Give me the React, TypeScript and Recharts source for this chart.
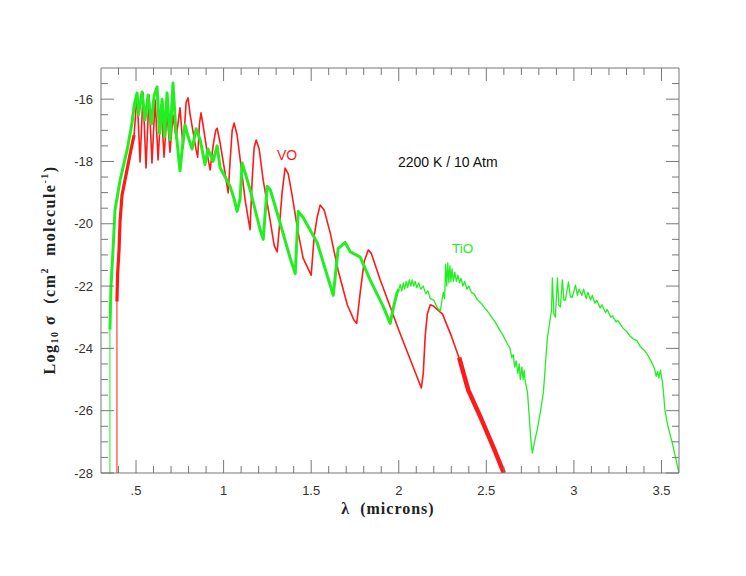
import React from 'react';
import { LineChart, Line, XAxis, YAxis } from 'recharts';

// ---- axis ticks ----
const xTickValues = [0.4, 0.5, 0.6, 0.7, 0.8, 0.9, 1.0, 1.1, 1.2, 1.3, 1.4, 1.5, 1.6, 1.7, 1.8, 1.9, 2.0, 2.1, 2.2, 2.3, 2.4, 2.5, 2.6, 2.7, 2.8, 2.9, 3.0, 3.1, 3.2, 3.3, 3.4, 3.5];
const xMajorValues = [0.5, 1.0, 1.5, 2.0, 2.5, 3.0, 3.5];
const xMajorLabels = ['.5', '1', '1.5', '2', '2.5', '3', '3.5'];
const yTickValues = [-28, -27.5, -27, -26.5, -26, -25.5, -25, -24.5, -24, -23.5, -23, -22.5, -22, -21.5, -21, -20.5, -20, -19.5, -19, -18.5, -18, -17.5, -17, -16.5, -16, -15.5];
const yMajorValues = [-28, -26, -24, -22, -20, -18, -16];
const yMajorLabels = ['-28', '-26', '-24', '-22', '-20', '-18', '-16'];

// ---- VO (red) : [wavelength (micron), log10 sigma] ----
const voBase: [number, number][] = [[0.391, -28], [0.391, -22.5]];
const voRise: [number, number][] = [
  [0.391, -22.5], [0.395, -21.6], [0.403, -20.84], [0.409, -19.9], [0.42, -19.08], [0.437, -18.6],
  [0.454, -18.11], [0.471, -17.63], [0.489, -17.15],
];
const voMain: [number, number][] = [
  [0.489, -17.15], [0.506, -15.85], [0.523, -18.02], [0.54, -15.8], [0.557, -18.21], [0.574, -15.87],
  [0.591, -18.05], [0.609, -16.03], [0.626, -17.95], [0.643, -16.19], [0.66, -17.86], [0.677, -16.41],
  [0.694, -17.7], [0.711, -16.51], [0.729, -17.25], [0.751, -16.28], [0.769, -17.57], [0.786, -16.1],
  [0.797, -15.96], [0.809, -16.5], [0.843, -17.63], [0.852, -17.86], [0.862, -16.8], [0.871, -16.44],
  [0.882, -16.8], [0.911, -17.9], [0.923, -18.27], [0.94, -17.5], [0.955, -17.0], [0.963, -16.93],
  [0.98, -17.4], [1.009, -18.4], [1.026, -19.01], [1.037, -18.0], [1.049, -17.0], [1.06, -16.77],
  [1.077, -17.15], [1.094, -17.9], [1.123, -19.24], [1.151, -20.19], [1.163, -18.6], [1.174, -17.57],
  [1.186, -17.31], [1.203, -17.6], [1.226, -18.6], [1.266, -19.9], [1.289, -20.7], [1.306, -20.9],
  [1.317, -20.2], [1.334, -19.0], [1.351, -18.21], [1.369, -18.4], [1.391, -19.08], [1.426, -20.3],
  [1.454, -21.1], [1.5, -21.65], [1.517, -20.4], [1.534, -19.8], [1.551, -19.4], [1.574, -19.56],
  [1.609, -20.3], [1.654, -21.5], [1.706, -22.6], [1.745, -23.1], [1.76, -23.2], [1.78, -22.2],
  [1.803, -21.2], [1.826, -20.84], [1.843, -20.95], [1.894, -21.8], [2.0, -23.41], [2.129, -25.27],
  [2.14, -24.8], [2.151, -23.6], [2.163, -22.9], [2.18, -22.6], [2.2, -22.65], [2.25, -22.9],
  [2.3, -23.6], [2.35, -24.4], [2.397, -25.34], [2.466, -26.2], [2.54, -27.17], [2.6, -28.0],
];
const voTail: [number, number][] = [
  [2.345, -24.3], [2.36, -24.6], [2.38, -25.0], [2.397, -25.34], [2.466, -26.2], [2.54, -27.17], [2.6, -28.0],
];

// ---- TiO (green) ----
const tioBase: [number, number][] = [[0.351, -28], [0.351, -23.4]];
const tioThick: [number, number][] = [
  [0.351, -23.4], [0.357, -22.0], [0.369, -20.8], [0.38, -19.56], [0.409, -18.6], [0.449, -17.63],
  [0.477, -16.77], [0.489, -16.2], [0.506, -15.8], [0.514, -16.5], [0.534, -15.77], [0.551, -16.67],
  [0.569, -15.87], [0.588, -16.8], [0.603, -15.9], [0.62, -15.61], [0.634, -17.1], [0.649, -16.0],
  [0.663, -17.2], [0.677, -15.8], [0.694, -17.3], [0.711, -15.48], [0.726, -16.9], [0.751, -18.3],
  [0.769, -17.3], [0.78, -16.83], [0.797, -17.2], [0.82, -17.6], [0.843, -16.95], [0.866, -17.3],
  [0.894, -18.1], [0.911, -17.6], [0.94, -18.0], [0.963, -17.5], [0.98, -18.2], [1.009, -18.5],
  [1.037, -18.8], [1.06, -19.2], [1.077, -19.6], [1.094, -19.2], [1.106, -18.05], [1.151, -18.9],
  [1.209, -20.2], [1.226, -20.5], [1.249, -18.8], [1.266, -18.9], [1.311, -19.75], [1.38, -21.1],
  [1.409, -21.6], [1.426, -19.6], [1.454, -19.8], [1.534, -20.6], [1.626, -22.3], [1.654, -20.8],
  [1.694, -20.6], [1.723, -20.9], [1.78, -21.07], [1.837, -21.81], [1.911, -22.65], [1.951, -23.2],
  [1.969, -22.7], [1.991, -22.2], [2.0, -22.1],
];
const tioThin: [number, number][] = [
  [2.0, -22.1], [2.009, -21.95], [2.017, -22.15], [2.026, -21.9], [2.034, -22.1], [2.043, -21.85],
  [2.051, -22.05], [2.06, -21.8], [2.069, -22.0], [2.077, -21.8], [2.086, -22.0], [2.094, -21.85],
  [2.103, -22.05], [2.114, -21.9], [2.126, -22.1], [2.14, -22.0], [2.154, -22.25], [2.166, -22.15],
  [2.18, -22.4], [2.2, -22.45], [2.22, -22.7], [2.237, -22.8], [2.254, -22.2], [2.262, -22.4],
  [2.268, -21.3], [2.274, -22.0], [2.28, -21.26], [2.286, -21.9], [2.292, -21.35], [2.298, -21.85],
  [2.304, -21.45], [2.312, -21.85], [2.32, -21.55], [2.329, -21.85], [2.338, -21.65], [2.347, -21.9],
  [2.356, -21.75], [2.366, -22.0], [2.376, -21.85], [2.389, -22.1], [2.4, -22.0], [2.414, -22.2],
  [2.43, -22.25], [2.45, -22.45], [2.47, -22.55], [2.49, -22.7], [2.506, -22.8], [2.53, -23.0],
  [2.55, -23.15], [2.575, -23.4], [2.597, -23.6], [2.62, -23.85], [2.635, -24.0], [2.645, -24.3],
  [2.654, -24.2], [2.662, -24.6], [2.67, -24.4], [2.68, -24.8], [2.688, -24.5], [2.694, -25.0],
  [2.703, -24.6], [2.71, -25.0], [2.716, -24.7], [2.723, -25.1], [2.735, -25.4], [2.745, -26.2],
  [2.755, -27.0], [2.763, -27.36], [2.775, -27.0], [2.791, -26.6], [2.81, -26.0], [2.826, -25.4],
  [2.84, -24.3], [2.849, -23.64], [2.866, -23.0], [2.872, -22.8], [2.877, -21.74], [2.886, -22.9],
  [2.894, -23.0], [2.906, -21.74], [2.914, -22.6], [2.923, -22.67], [2.934, -21.8], [2.943, -22.45],
  [2.951, -22.45], [2.969, -21.87], [2.98, -22.35], [2.991, -22.35], [3.009, -21.97], [3.02, -22.3],
  [3.03, -22.1], [3.045, -22.3], [3.055, -22.1], [3.07, -22.4], [3.08, -22.2], [3.095, -22.45],
  [3.105, -22.3], [3.12, -22.55], [3.13, -22.45], [3.15, -22.7], [3.16, -22.6], [3.18, -22.85],
  [3.19, -22.75], [3.21, -23.0], [3.22, -22.95], [3.24, -23.15], [3.25, -23.1], [3.28, -23.35],
  [3.3, -23.45], [3.32, -23.6], [3.34, -23.7], [3.36, -23.75], [3.38, -23.95], [3.4, -24.05],
  [3.42, -24.2], [3.44, -24.4], [3.46, -24.65], [3.47, -24.9], [3.477, -24.75], [3.485, -24.95],
  [3.494, -24.7], [3.5, -24.9], [3.506, -25.1], [3.511, -25.4], [3.52, -26.0], [3.537, -26.5],
  [3.56, -27.0], [3.58, -27.5], [3.6, -28.0],
];

const RED = '#ff1a1a';
const GREEN = '#22ee22';
const AXIS = '#777';
const LABEL = '#333';
const SANS = '"Liberation Sans", Arial, sans-serif';
const SERIF = '"Liberation Serif", "Times New Roman", serif';

const toPts = (arr: [number, number][]) => arr.map(([x, v]) => ({ x, v }));
const majorIndex = (list: number[], v: number) => list.findIndex((m) => Math.abs(m - v) < 1e-6);

const BottomTick = (p: any) => {
  const i = majorIndex(xMajorValues, p.payload.value);
  const len = i >= 0 ? 13 : 7;
  return (
    <g>
      <line x1={p.x} y1={p.y} x2={p.x} y2={p.y - len} stroke={AXIS} strokeWidth={1} />
      {i >= 0 && (
        <text x={p.x} y={p.y + 22} textAnchor="middle" fontFamily={SANS} fontSize={13} fill={LABEL}>
          {xMajorLabels[i]}
        </text>
      )}
    </g>
  );
};
const TopTick = (p: any) => {
  const i = majorIndex(xMajorValues, p.payload.value);
  const len = i >= 0 ? 13 : 7;
  return <line x1={p.x} y1={p.y} x2={p.x} y2={p.y + len} stroke={AXIS} strokeWidth={1} />;
};
const LeftTick = (p: any) => {
  const i = majorIndex(yMajorValues, p.payload.value);
  const len = i >= 0 ? 13 : 7;
  return (
    <g>
      <line x1={p.x} y1={p.y} x2={p.x + len} y2={p.y} stroke={AXIS} strokeWidth={1} />
      {i >= 0 && (
        <text x={p.x - 8} y={p.y + 4.5} textAnchor="end" fontFamily={SANS} fontSize={13} fill={LABEL}>
          {yMajorLabels[i]}
        </text>
      )}
    </g>
  );
};
const RightTick = (p: any) => {
  const i = majorIndex(yMajorValues, p.payload.value);
  const len = i >= 0 ? 13 : 7;
  return <line x1={p.x} y1={p.y} x2={p.x - len} y2={p.y} stroke={AXIS} strokeWidth={1} />;
};

export default function App() {
  const W = 730;
  const H = 560;
  return (
    <div style={{ position: 'relative', width: W, height: H }}>
      <LineChart width={W} height={H} margin={{ top: 50, right: 49, bottom: 65, left: 33 }}>
        <XAxis
          type="number" dataKey="x" domain={[0.3, 3.6]} allowDataOverflow ticks={xTickValues} interval={0}
          height={30} tickSize={0} tickMargin={0} tickLine={false} axisLine={{ stroke: AXIS }} tick={<BottomTick />}
        />
        <XAxis
          xAxisId="top" orientation="top" type="number" dataKey="x" domain={[0.3, 3.6]} allowDataOverflow
          ticks={xTickValues} interval={0} height={10} tickSize={0} tickMargin={0} tickLine={false}
          axisLine={{ stroke: AXIS }} tick={<TopTick />}
        />
        <YAxis
          type="number" domain={[-28, -15]} allowDataOverflow ticks={yTickValues} interval={0} width={60}
          tickSize={0} tickMargin={0} tickLine={false} axisLine={{ stroke: AXIS }} tick={<LeftTick />}
        />
        <YAxis
          yAxisId="right" orientation="right" type="number" domain={[-28, -15]} allowDataOverflow ticks={yTickValues}
          interval={0} width={10} tickSize={0} tickMargin={0} tickLine={false} axisLine={{ stroke: AXIS }}
          tick={<RightTick />}
        />
        <Line data={toPts(voBase)} dataKey="v" stroke={RED} strokeWidth={1} dot={false} isAnimationActive={false} />
        <Line data={toPts(voRise)} dataKey="v" stroke={RED} strokeWidth={3.2} dot={false} isAnimationActive={false} />
        <Line data={toPts(voMain)} dataKey="v" stroke={RED} strokeWidth={1.6} dot={false} isAnimationActive={false} strokeLinejoin="round" />
        <Line data={toPts(voTail)} dataKey="v" stroke={RED} strokeWidth={4.5} dot={false} isAnimationActive={false} />
        <Line data={toPts(tioBase)} dataKey="v" stroke={GREEN} strokeWidth={1} dot={false} isAnimationActive={false} />
        <Line data={toPts(tioThick)} dataKey="v" stroke={GREEN} strokeWidth={3} dot={false} isAnimationActive={false} strokeLinejoin="round" />
        <Line data={toPts(tioThin)} dataKey="v" stroke={GREEN} strokeWidth={1.3} dot={false} isAnimationActive={false} strokeLinejoin="round" />
      </LineChart>
      <svg width={W} height={H} style={{ position: 'absolute', left: 0, top: 0, pointerEvents: 'none' }}>
        <text x={269} y={152} fontFamily={SANS} fontSize={14} fill={RED}>VO</text>
        <text x={444} y={245} fontFamily={SANS} fontSize={13.5} fill={GREEN}>TiO</text>
        <text x={390} y={159} fontFamily={SANS} fontSize={14} fill="#111">2200 K / 10 Atm</text>
        <text
          x={380} y={506} textAnchor="middle" fontFamily={SERIF} fontSize={16} fontWeight="bold" fill="#222"
          letterSpacing={1} style={{ whiteSpace: 'pre' }}
        >
          {'λ  (microns)'}
        </text>
        <text
          transform="translate(47 262) rotate(-90)" textAnchor="middle" fontFamily={SERIF} fontSize={16}
          fontWeight="bold" fill="#222" letterSpacing={1.5} style={{ whiteSpace: 'pre' }}
        >
          <tspan>Log</tspan>
          <tspan fontSize={10} dy={3}>10</tspan>
          <tspan dy={-3}>{' σ  (cm'}</tspan>
          <tspan fontSize={10} dy={-7}>2</tspan>
          <tspan dy={7}>{'  molecule'}</tspan>
          <tspan fontSize={10} dy={-7}>-1</tspan>
          <tspan dy={7}>)</tspan>
        </text>
      </svg>
    </div>
  );
}
